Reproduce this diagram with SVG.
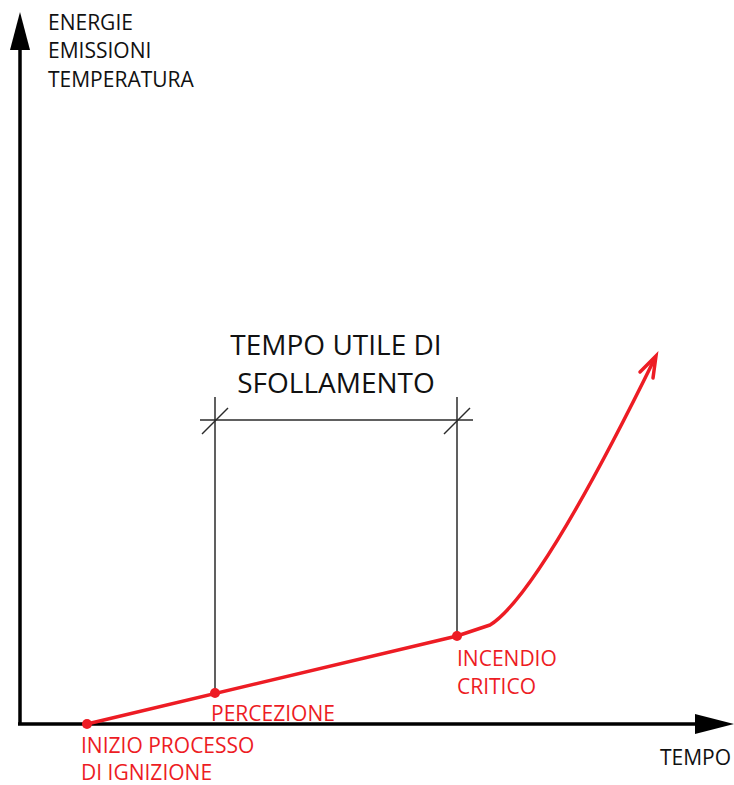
<svg xmlns="http://www.w3.org/2000/svg" width="734" height="785" viewBox="0 0 734 785">
<style>
.lbl{font-family:"Open Sans","Liberation Sans",sans-serif;font-size:21px;font-weight:500;}
.blk{fill:#111;}
.red{fill:#ed1c24;}
.title{font-family:"Open Sans","Liberation Sans",sans-serif;font-size:28px;font-weight:500;fill:#111;}
.dim{stroke:#2b2b2b;stroke-width:1.5;fill:none;}
</style>
<rect width="734" height="785" fill="#fff"/>
<g id="axes">
<line x1="20" y1="45" x2="20" y2="724" stroke="#000" stroke-width="3.5"/>
<polygon points="20,12 10,50 30,50" fill="#000"/>
<line x1="18" y1="724" x2="700" y2="724" stroke="#000" stroke-width="3.5"/>
<polygon points="695,714 734,724 695,734" fill="#000"/>
</g>
<g id="y-label">
<text class="lbl blk" x="48" y="30">ENERGIE</text>
<text class="lbl blk" x="48" y="58">EMISSIONI</text>
<text class="lbl blk" x="48" y="87">TEMPERATURA</text>
</g>
<g id="x-label">
<text class="lbl blk" x="660" y="765">TEMPO</text>
</g>
<g id="dimension">
<line class="dim" x1="215" y1="397" x2="215" y2="693"/>
<line class="dim" x1="457" y1="397" x2="457" y2="636"/>
<line class="dim" x1="200" y1="420" x2="473" y2="420"/>
<line class="dim" x1="202" y1="434" x2="228" y2="408" stroke-width="1"/>
<line class="dim" x1="444" y1="434" x2="470" y2="408" stroke-width="1"/>
<text class="title" x="336" y="355" text-anchor="middle">TEMPO UTILE DI</text>
<text class="title" x="336" y="393" text-anchor="middle">SFOLLAMENTO</text>
</g>
<g id="curve">
<path d="M87,724 L457,636 L490,625 C530,600 600,470 655,358" fill="none" stroke="#ed1c24" stroke-width="3.5" stroke-linejoin="round"/>
<polyline points="640,372 656,356 653,378" fill="none" stroke="#ed1c24" stroke-width="3.5" stroke-linecap="round" stroke-linejoin="miter"/>
</g>
<g id="inizio">
<circle cx="87" cy="724" r="5" fill="#ed1c24"/>
<text class="lbl red" x="81" y="753">INIZIO PROCESSO</text>
<text class="lbl red" x="81" y="780">DI IGNIZIONE</text>
</g>
<g id="percezione">
<circle cx="215" cy="693" r="5" fill="#ed1c24"/>
<text class="lbl red" x="211" y="721">PERCEZIONE</text>
</g>
<g id="incendio">
<circle cx="457" cy="636" r="5" fill="#ed1c24"/>
<text class="lbl red" x="457" y="666">INCENDIO</text>
<text class="lbl red" x="457" y="694">CRITICO</text>
</g>
</svg>
